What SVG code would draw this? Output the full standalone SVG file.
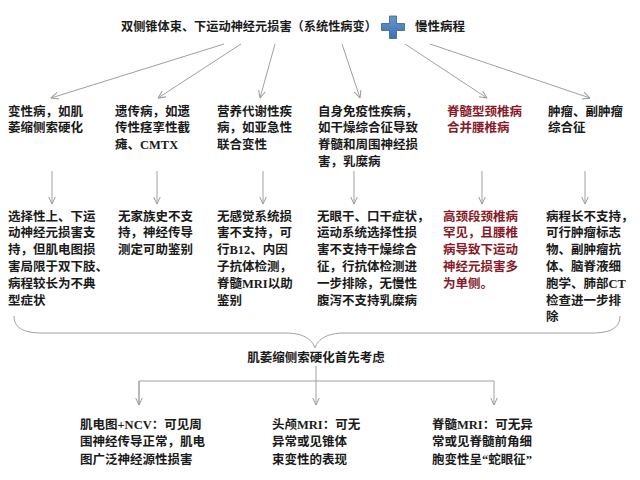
<svg xmlns="http://www.w3.org/2000/svg" width="640" height="480" viewBox="0 0 640 480">
<defs>
<marker id="ah" viewBox="0 0 8 8" refX="7.5" refY="4" markerWidth="8" markerHeight="8" markerUnits="userSpaceOnUse" orient="auto">
<path d="M0,0.5 L7.5,4 L0,7.5" fill="none" stroke="#9a9a9a" stroke-width="1"/>
</marker>
<linearGradient id="pg" x1="0" y1="0" x2="0" y2="1">
<stop offset="0" stop-color="#6a96cc"/>
<stop offset="1" stop-color="#3f70ad"/>
</linearGradient>
<style>
text{font-family:"Liberation Serif","Noto Sans CJK SC",serif;font-size:12.5px;font-weight:700;fill:#1a1a1a}
.red{fill:#861a28}
.c{stroke:#a0a0a0;stroke-width:1;fill:none}
.a{marker-end:url(#ah)}
</style>
</defs>
<rect width="640" height="480" fill="#ffffff"/>

<g id="title">
<text x="121" y="31" style="font-size:12.2px">双侧锥体束、下运动神经元损害（系统性病变）</text>
<path d="M389.5,16 h7 v7.5 h8 v7 h-8 v8 h-7 v-8 h-8 v-7 h8 z" fill="url(#pg)" stroke="#36618f" stroke-width="0.8"/>
<text x="415" y="31">慢性病程</text>
</g>

<g id="connectors">
<line class="c a" x1="224" y1="44" x2="51" y2="98"/>
<line class="c a" x1="241" y1="44" x2="158" y2="98"/>
<line class="c a" x1="275" y1="44" x2="260" y2="98"/>
<line class="c a" x1="342" y1="44" x2="360" y2="98"/>
<line class="c a" x1="405" y1="44" x2="487" y2="98"/>
<line class="c a" x1="430" y1="44" x2="590" y2="98"/>

<line class="c a" x1="52" y1="171" x2="52" y2="204"/>
<line class="c a" x1="157" y1="171" x2="157" y2="204"/>
<line class="c a" x1="263" y1="171" x2="263" y2="204"/>
<line class="c a" x1="354" y1="171" x2="354" y2="204"/>
<line class="c a" x1="482" y1="171" x2="482" y2="204"/>
<line class="c a" x1="585" y1="171" x2="585" y2="204"/>

<path class="c" d="M14,316 C14,327 22,333 42,333 L285,333 C303,333 312,339 315,348 C318,339 327,333 345,333 L592,333 C612,333 620,327 620,316" stroke="#909090" stroke-width="1.2"/>

<line class="c a" x1="316" y1="366" x2="316" y2="405"/>
<polyline class="c" points="139,405 139,381 494,381 494,405" marker-end="url(#ah)"/>
<line class="c a" x1="139" y1="381" x2="139" y2="405"/>
</g>

<g id="n1"><text x="8" y="115.5">变性病，如肌<tspan x="8" dy="16.8">萎缩侧索硬化</tspan></text></g>
<g id="n2"><text x="115" y="115.5">遗传病，如遗<tspan x="115" dy="16.8">传性痉挛性截</tspan><tspan x="115" dy="16.8">瘫、CMTX</tspan></text></g>
<g id="n3"><text x="217" y="115.5">营养代谢性疾<tspan x="217" dy="16.8">病，如亚急性</tspan><tspan x="217" dy="16.8">联合变性</tspan></text></g>
<g id="n4"><text x="318" y="115.5">自身免疫性疾病，<tspan x="318" dy="16.8">如干燥综合征导致</tspan><tspan x="318" dy="16.8">脊髓和周围神经损</tspan><tspan x="318" dy="16.8">害，乳糜病</tspan></text></g>
<g id="n5"><text class="red" x="447" y="115.5">脊髓型颈椎病<tspan x="447" dy="16.8">合并腰椎病</tspan></text></g>
<g id="n6"><text x="548" y="115.5">肿瘤、副肿瘤<tspan x="548" dy="16.8">综合征</tspan></text></g>

<g id="m1"><text x="8" y="220.5">选择性上、下运<tspan x="8" dy="16.8">动神经元损害支</tspan><tspan x="8" dy="16.8">持，但肌电图损</tspan><tspan x="8" dy="16.8">害局限于双下肢、</tspan><tspan x="8" dy="16.8">病程较长为不典</tspan><tspan x="8" dy="16.8">型症状</tspan></text></g>
<g id="m2"><text x="118" y="220.5">无家族史不支<tspan x="118" dy="16.8">持，神经传导</tspan><tspan x="118" dy="16.8">测定可助鉴别</tspan></text></g>
<g id="m3"><text x="217" y="220.5">无感觉系统损<tspan x="217" dy="16.8">害不支持，可</tspan><tspan x="217" dy="16.8">行B12、内因</tspan><tspan x="217" dy="16.8">子抗体检测，</tspan><tspan x="217" dy="16.8">脊髓MRI以助</tspan><tspan x="217" dy="16.8">鉴别</tspan></text></g>
<g id="m4"><text x="317" y="220.5">无眼干、口干症状，<tspan x="317" dy="16.8">运动系统选择性损</tspan><tspan x="317" dy="16.8">害不支持干燥综合</tspan><tspan x="317" dy="16.8">征，行抗体检测进</tspan><tspan x="317" dy="16.8">一步排除，无慢性</tspan><tspan x="317" dy="16.8">腹泻不支持乳糜病</tspan></text></g>
<g id="m5"><text class="red" x="443" y="220.5">高颈段颈椎病<tspan x="443" dy="16.8">罕见，且腰椎</tspan><tspan x="443" dy="16.8">病导致下运动</tspan><tspan x="443" dy="16.8">神经元损害多</tspan><tspan x="443" dy="16.8">为单侧。</tspan></text></g>
<g id="m6"><text x="546" y="220.5">病程长不支持，<tspan x="546" dy="16.8">可行肿瘤标志</tspan><tspan x="546" dy="16.8">物、副肿瘤抗</tspan><tspan x="546" dy="16.8">体、脑脊液细</tspan><tspan x="546" dy="16.8">胞学、肺部CT</tspan><tspan x="546" dy="16.8">检查进一步排</tspan><tspan x="546" dy="16.8">除</tspan></text></g>

<g id="als"><text x="316" y="362" text-anchor="middle">肌萎缩侧索硬化首先考虑</text></g>

<g id="b1"><text x="80" y="428.5">肌电图+NCV：可见周<tspan x="80" dy="17.5">围神经传导正常，肌电</tspan><tspan x="80" dy="17.5">图广泛神经源性损害</tspan></text></g>
<g id="b2"><text x="272" y="428.5">头颅MRI：可无<tspan x="272" dy="17.5">异常或见锥体</tspan><tspan x="272" dy="17.5">束变性的表现</tspan></text></g>
<g id="b3"><text x="432" y="428.5">脊髓MRI：可无异<tspan x="432" dy="17.5">常或见脊髓前角细</tspan><tspan x="432" dy="17.5">胞变性呈“蛇眼征”</tspan></text></g>
</svg>
